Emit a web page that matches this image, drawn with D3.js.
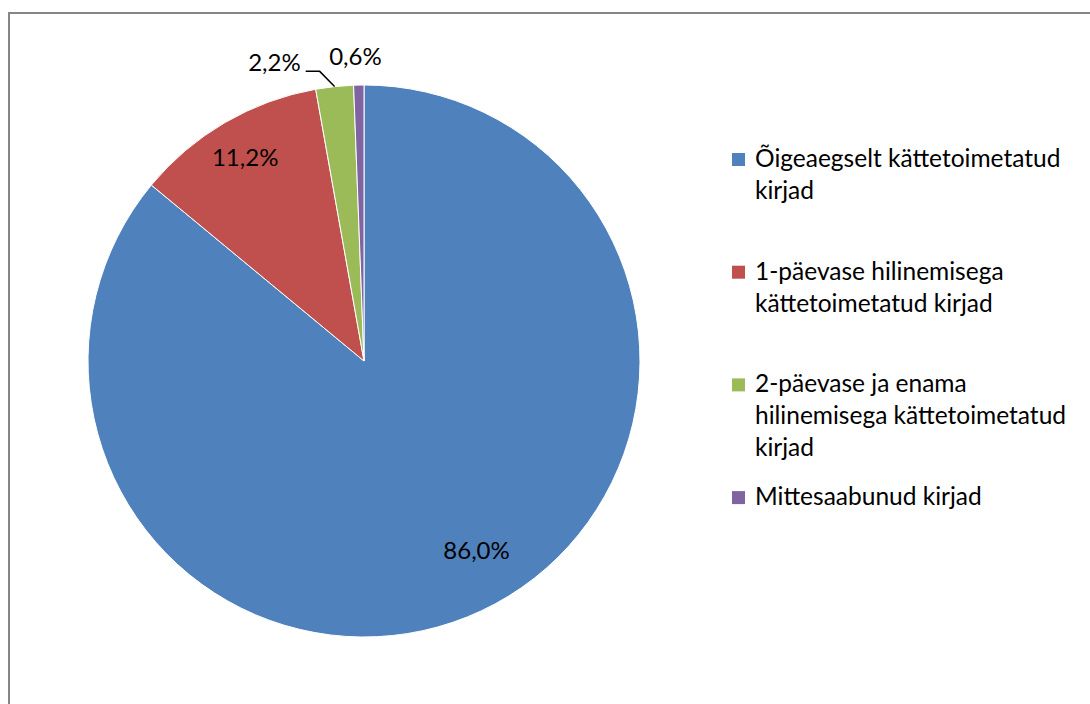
<!DOCTYPE html>
<html>
<head>
<meta charset="utf-8">
<script src="https://cdn.jsdelivr.net/npm/d3@7"></script>
<style>
  body { margin: 0; background: #ffffff; }
  svg text { font-family: Lato, "Open Sans", sans-serif; fill: #000000; }
</style>
</head>
<body>
<svg width="1090" height="704"></svg>
<script>
// Data
var categories = [
  "Õigeaegselt kättetoimetatud kirjad",
  "1-päevase hilinemisega kättetoimetatud kirjad",
  "2-päevase ja enama hilinemisega kättetoimetatud kirjad",
  "Mittesaabunud kirjad"
];
// legend lines as wrapped in the picture
var legendLines = [
  ["Õigeaegselt kättetoimetatud", "kirjad"],
  ["1-päevase hilinemisega", "kättetoimetatud kirjad"],
  ["2-päevase ja enama", "hilinemisega kättetoimetatud", "kirjad"],
  ["Mittesaabunud kirjad"]
];
var values = [86.0, 11.2, 2.2, 0.6];
var colors = ["#4F81BD", "#C0504D", "#9BBB59", "#8064A2"];

var svg = d3.select("svg"),
  width = +svg.attr("width"),
  height = +svg.attr("height");

// chart area frame (cut off by the right and bottom edges)
svg.append("rect")
  .attr("x", 9)
  .attr("y", 13)
  .attr("width", width + 20)
  .attr("height", height + 20)
  .attr("fill", "none")
  .attr("stroke", "#868686")
  .attr("stroke-width", 2);

var cx = 364, cy = 361, radius = 276;

var pie = d3.pie().sort(null).value(function(d) { return d; });
var arcs = pie(values);

var arc = d3.arc().innerRadius(0).outerRadius(radius);

var gPie = svg.append("g").attr("transform", "translate(" + cx + "," + cy + ")");

gPie.selectAll("path")
  .data(arcs)
  .enter().append("path")
  .attr("d", arc)
  .attr("fill", function(d, i) { return colors[i]; })
  .attr("stroke", "#ffffff")
  .attr("stroke-width", 1);

function fmt(v) { return v.toFixed(1).replace(".", ",") + "%"; }
function midAngle(d) { return (d.startAngle + d.endAngle) / 2; }
function polar(a, r) { return [Math.sin(a) * r, -Math.cos(a) * r]; }

var labelSize = 24;

// labels inside the two large slices
arcs.forEach(function(d, i) {
  var a = midAngle(d);
  if (values[i] > 5) {
    var ratio = i === 0 ? 0.8 : 0.855;
    var shift = i === 0 ? -0.095 : 0;
    var p = polar(a + shift, radius * ratio);
    gPie.append("text")
      .attr("x", p[0])
      .attr("y", p[1])
      .attr("dy", "0.35em")
      .attr("text-anchor", "middle")
      .style("font-size", labelSize + "px")
      .text(fmt(values[i]));
  }
});

// green slice: outside label with a leader line
var dG = arcs[2];
var aG = midAngle(dG);
var p0 = polar(aG, radius);
var p1 = polar(aG - 0.045, radius + 17);
var p2 = [p1[0] - 14, p1[1]];
gPie.append("polyline")
  .attr("points", [p0, p1, p2].map(function(p) { return p.join(","); }).join(" "))
  .attr("fill", "none")
  .attr("stroke", "#000000")
  .attr("stroke-width", 1.5);
gPie.append("text")
  .attr("x", p2[0] - 5)
  .attr("y", p2[1])
  .attr("text-anchor", "end")
  .style("font-size", labelSize + "px")
  .text(fmt(values[2]));

// purple slice: outside label without leader
var dP = arcs[3];
var pP = polar(midAngle(dP) - 0.01, radius + 20);
gPie.append("text")
  .attr("x", pP[0])
  .attr("y", pP[1])
  .attr("text-anchor", "middle")
  .style("font-size", labelSize + "px")
  .text(fmt(values[3]));

// legend
var legendX = 732, legendTop = 167, entryStep = 112.7, lineStep = 32;
var gKey = svg.append("g").attr("class", "key");
legendLines.forEach(function(lines, i) {
  var y = legendTop + i * entryStep;
  gKey.append("rect")
    .attr("x", legendX)
    .attr("y", y - 14)
    .attr("width", 13)
    .attr("height", 13)
    .attr("fill", colors[i]);
  lines.forEach(function(line, j) {
    gKey.append("text")
      .attr("x", legendX + 23)
      .attr("y", y + j * lineStep)
      .style("font-size", "24.5px")
      .text(line);
  });
});
</script>
</body>
</html>
